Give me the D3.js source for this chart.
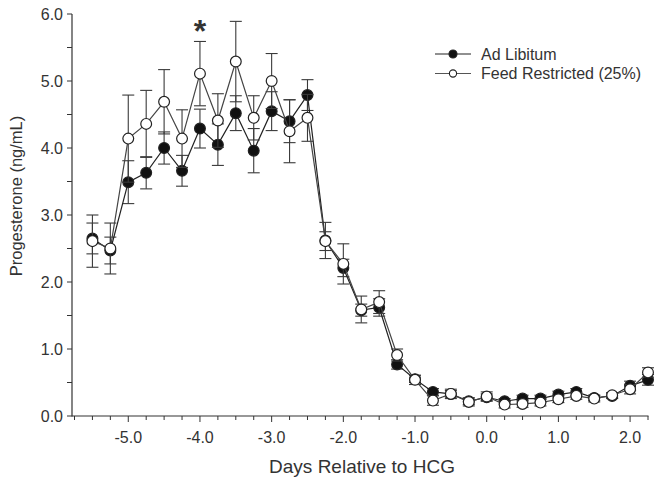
<!DOCTYPE html>
<html>
<head>
<meta charset="utf-8">
<script src="https://cdn.jsdelivr.net/npm/d3@7"></script>
<style>
  html, body { margin: 0; padding: 0; background: #fff; }
  svg { display: block; }
  text { font-family: "Liberation Sans", Arial, sans-serif; fill: #333; }
</style>
</head>
<body>
<svg id="chart" width="663" height="483"></svg>
<script>
// ---- data ----
const days = [-5.5, -5.25, -5.0, -4.75, -4.5, -4.25, -4.0, -3.75, -3.5, -3.25, -3.0, -2.75, -2.5, -2.25,
              -2.0, -1.75, -1.5, -1.25, -1.0, -0.75, -0.5, -0.25, 0.0, 0.25, 0.5, 0.75, 1.0, 1.25, 1.5, 1.75, 2.0, 2.25];
const adLibitum = [2.65, 2.47, 3.49, 3.63, 4.00, 3.66, 4.29, 4.05, 4.52, 3.96, 4.55, 4.40, 4.79, 2.62,
                   2.21, 1.58, 1.62, 0.77, 0.55, 0.36, 0.33, 0.22, 0.28, 0.22, 0.26, 0.26, 0.32, 0.36, 0.27, 0.30, 0.45, 0.54];
const adLibitumErr = [0.23, 0.20, 0.32, 0.24, 0.24, 0.23, 0.29, 0.31, 0.26, 0.33, 0.29, 0.32, 0.23, 0.27,
                      0.13, 0.09, 0.13, 0.07, 0.05, 0.05, 0.05, 0.05, 0.05, 0.04, 0.05, 0.05, 0.05, 0.05, 0.04, 0.04, 0.07, 0.08];
const feedRestricted = [2.61, 2.50, 4.14, 4.36, 4.69, 4.14, 5.11, 4.41, 5.29, 4.45, 5.00, 4.25, 4.45, 2.61,
                        2.27, 1.59, 1.70, 0.91, 0.54, 0.23, 0.33, 0.21, 0.29, 0.17, 0.18, 0.20, 0.25, 0.30, 0.26, 0.31, 0.40, 0.65];
const feedRestrictedErr = [0.39, 0.38, 0.65, 0.50, 0.48, 0.43, 0.48, 0.40, 0.60, 0.33, 0.41, 0.47, 0.35, 0.14,
                           0.30, 0.20, 0.17, 0.09, 0.07, 0.07, 0.07, 0.06, 0.07, 0.05, 0.05, 0.05, 0.05, 0.05, 0.05, 0.04, 0.07, 0.07];
const seriesNames = ["Ad Libitum", "Feed Restricted (25%)"];
const xTickValues = [-5, -4, -3, -2, -1, 0, 1, 2];
const yTickValues = [0, 1, 2, 3, 4, 5, 6];
const xTitle = "Days Relative to HCG";
const yTitle = "Progesterone (ng/mL)";
const significantDay = -4.0;

// ---- layout ----
const svg = d3.select("#chart");
const x = d3.scaleLinear().domain([-5.75, 2.25]).range([74.5, 648]);
const y = d3.scaleLinear().domain([0, 6]).range([416, 14]);
const axisColor = "#333";

// x axis
const xAxisG = svg.append("g").attr("transform", "translate(0,416)");
xAxisG.append("line").attr("x1", 72).attr("x2", 648.5).attr("y1", 0).attr("y2", 0)
  .attr("stroke", axisColor).attr("stroke-width", 1.2);
const xMinor = d3.range(-23, 10).map(i => i * 0.25);
xAxisG.selectAll("line.minor").data(xMinor).join("line")
  .attr("class", "minor")
  .attr("x1", d => x(d)).attr("x2", d => x(d))
  .attr("y1", 0).attr("y2", d => Number.isInteger(d) ? 6 : 4)
  .attr("stroke", axisColor).attr("stroke-width", 1);
xAxisG.selectAll("text").data(xTickValues).join("text")
  .attr("x", d => x(d)).attr("y", 27)
  .attr("text-anchor", "middle")
  .attr("font-size", 16)
  .text(d => d.toFixed(1));

// y axis
const yAxisG = svg.append("g").attr("transform", "translate(72,0)");
yAxisG.append("line").attr("x1", 0).attr("x2", 0).attr("y1", y(6)).attr("y2", 416.5)
  .attr("stroke", axisColor).attr("stroke-width", 1.2);
const yMinor = d3.range(0, 13).map(i => i * 0.5);
yAxisG.selectAll("line.tick").data(yMinor).join("line")
  .attr("class", "tick")
  .attr("x1", 0).attr("x2", -5)
  .attr("y1", d => y(d)).attr("y2", d => y(d))
  .attr("stroke", axisColor).attr("stroke-width", 1);
yAxisG.selectAll("text").data(yTickValues).join("text")
  .attr("x", -9).attr("y", d => y(d))
  .attr("dy", "0.35em")
  .attr("text-anchor", "end")
  .attr("font-size", 16)
  .text(d => d.toFixed(1));

// axis titles
svg.append("text").attr("x", 362).attr("y", 473)
  .attr("text-anchor", "middle").attr("font-size", 19).text(xTitle);
svg.append("text")
  .attr("transform", "translate(22,196) rotate(-90)")
  .attr("text-anchor", "middle").attr("font-size", 16.5).text(yTitle);

// ---- series ----
function drawSeries(vals, errs, filled, lineColor) {
  const pts = days.map((d, i) => ({ d, v: vals[i], e: errs[i] }));
  const g = svg.append("g");
  // error bars
  const eg = g.selectAll("g.err").data(pts).join("g").attr("class", "err")
    .attr("stroke", "#3a3a3a").attr("stroke-width", 1.1);
  eg.append("line").attr("x1", p => x(p.d)).attr("x2", p => x(p.d))
    .attr("y1", p => y(p.v - p.e)).attr("y2", p => y(p.v + p.e));
  eg.append("line").attr("x1", p => x(p.d) - 6).attr("x2", p => x(p.d) + 6)
    .attr("y1", p => y(p.v + p.e)).attr("y2", p => y(p.v + p.e));
  eg.append("line").attr("x1", p => x(p.d) - 6).attr("x2", p => x(p.d) + 6)
    .attr("y1", p => y(p.v - p.e)).attr("y2", p => y(p.v - p.e));
  // line
  g.append("path").datum(pts)
    .attr("d", d3.line().x(p => x(p.d)).y(p => y(p.v)))
    .attr("fill", "none").attr("stroke", lineColor).attr("stroke-width", 1.2);
  // markers
  g.selectAll("circle").data(pts).join("circle")
    .attr("cx", p => x(p.d)).attr("cy", p => y(p.v)).attr("r", 5.4)
    .attr("fill", filled ? "#111" : "#fff")
    .attr("stroke", "#222").attr("stroke-width", 1.2);
}
drawSeries(adLibitum, adLibitumErr, true, "#222");
drawSeries(feedRestricted, feedRestrictedErr, false, "#444");

// significance asterisk
const idx = days.indexOf(significantDay);
const star = svg.append("text")
  .attr("x", x(significantDay)).attr("y", 0)
  .attr("text-anchor", "middle").attr("font-size", 32).attr("font-weight", "bold")
  .attr("fill", "#222").text("*");
const sb = star.node().getBBox();
const starTargetY = y(feedRestricted[idx] + feedRestrictedErr[idx]) - 10;
star.attr("y", starTargetY - (sb.y + sb.height / 2));

// legend
const legend = svg.append("g");
seriesNames.forEach((name, i) => {
  const ly = 54 + i * 19.5;
  const lg = legend.append("g");
  lg.append("line").attr("x1", 435).attr("x2", 471).attr("y1", ly).attr("y2", ly)
    .attr("stroke", i === 0 ? "#222" : "#555").attr("stroke-width", 1.2);
  lg.append("circle").attr("cx", 453).attr("cy", ly).attr("r", i === 0 ? 4 : 3.6)
    .attr("fill", i === 0 ? "#111" : "#fff").attr("stroke", "#222").attr("stroke-width", 1.1);
  lg.append("text").attr("x", 481).attr("y", ly).attr("dy", "0.35em")
    .attr("font-size", 16).text(name);
});
</script>
</body>
</html>
